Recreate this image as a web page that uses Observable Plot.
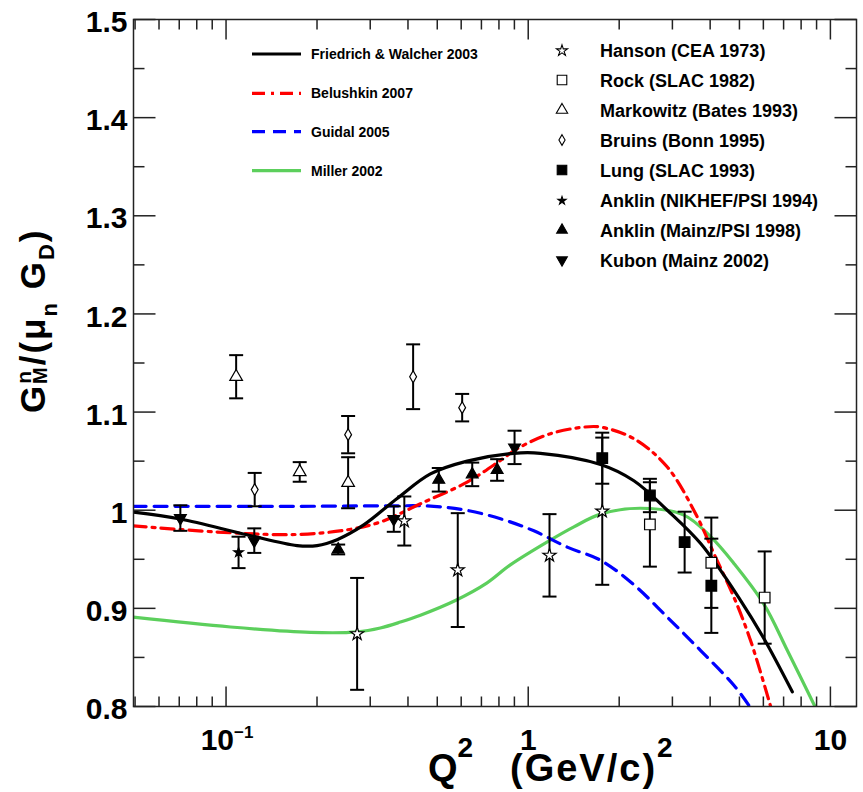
<!DOCTYPE html>
<html><head><meta charset="utf-8">
<script src="https://cdn.jsdelivr.net/npm/d3@7"></script>
<script src="https://cdn.jsdelivr.net/npm/@observablehq/plot@0.6"></script>
<style>
body{margin:0;background:#fff;}
#chart svg{display:block;}
</style></head><body><div id="chart"></div>
<script>
// ---------- model curves (Q^2 in (GeV/c)^2, G_M^n/(mu_n G_D)) ----------
const fwQ2 = [0.0494,0.0706,0.1173,0.1718,0.2001,0.2331,0.2855,0.3683,0.4747,0.628,0.896,1.098,1.735,2.237,2.886,3.721,5.047,6.03,7.48];
const fwG  = [0.998,0.991,0.975,0.964,0.964,0.970,0.985,1.012,1.037,1.050,1.058,1.058,1.0466,1.030,1.000,0.966,0.908,0.869,0.815];

const beluQ2 = [0.0493,0.1035,0.1718,0.2516,0.3243,0.4398,0.628,0.8096,0.9195,1.185,1.528,1.735,2.237,2.886,3.581,4.17,4.80,5.445,6.343];
const beluG  = [0.984,0.977,0.9753,0.980,0.988,1.0066,1.0287,1.0508,1.0627,1.078,1.0847,1.0847,1.0729,1.044,0.9964,0.952,0.911,0.867,0.800];

const guidQ2 = [0.0493,0.1762,0.35,0.487,0.628,0.8096,1.044,1.346,1.735,2.237,2.886,3.721,4.80,5.376];
const guidG  = [1.004,1.004,1.0045,1.004,0.9998,0.9913,0.979,0.9624,0.949,0.924,0.891,0.857,0.8214,0.801];

const millQ2 = [0.0493,0.1035,0.190,0.2715,0.324,0.3777,0.4398,0.574,0.731,0.87,1.176,1.416,1.735,2.355,3.275,4.015,4.80,6.03,7.205,8.89];
const millG  = [0.891,0.881,0.8755,0.876,0.880,0.886,0.893,0.908,0.926,0.944,0.969,0.983,0.996,1.002,0.995,0.973,0.9455,0.904,0.857,0.800];

// ---------- data sets ----------
const hansonQ2 = [0.2715,0.389,0.5845,1.176,1.758];
const hansonG  = [0.874,0.989,0.939,0.954,0.999];
const hansonE  = [0.057,0.025,0.058,0.042,0.075];

const rockQ2 = [2.527,4.036,6.06];
const rockG  = [0.9855,0.9465,0.911];
const rockE  = [0.043,0.046,0.047];

const markQ2 = [0.108,0.1753,0.2535];
const markG  = [1.136,1.039,1.028];
const markE  = [0.022,0.010,0.026];

const bruinsQ2 = [0.1244,0.2535,0.416,0.6045];
const bruinsG  = [1.021,1.077,1.136,1.1045];
const bruinsE  = [0.017,0.019,0.033,0.014];

const lungQ2 = [1.758,2.527,3.293,4.036];
const lungG  = [1.053,1.015,0.9675,0.923];
const lungE  = [0.026,0.017,0.031,0.048];

const anklinNQ2 = [0.110];
const anklinNG  = [0.957];
const anklinNE  = [0.016];

const anklinMQ2 = [0.235,0.5058,0.6527,0.789];
const anklinMG  = [0.960,1.031,1.0365,1.041];
const anklinME  = [0.005,0.012,0.012,0.011];

const kubonQ2 = [0.0706,0.124,0.359,0.901];
const kubonG  = [0.992,0.969,0.991,1.064];
const kubonE  = [0.013,0.0125,0.013,0.017];

// ---------- axis ticks ----------
const yMajor = [0.8,0.9,1.0,1.1,1.2,1.3,1.4,1.5];
const yLabels = ["0.8","0.9","1","1.1","1.2","1.3","1.4","1.5"];
const yMinor = [0.85,0.95,1.05,1.15,1.25,1.35,1.45];
const xMajor = [0.1,1,10];
const xMinor = [0.05,0.06,0.07,0.08,0.09,0.2,0.3,0.4,0.5,0.6,0.7,0.8,0.9,2,3,4,5,6,7,8,9];

const modelNames = ["Friedrich & Walcher 2003","Belushkin 2007","Guidal 2005","Miller 2002"];
const dataNames = ["Hanson (CEA 1973)","Rock (SLAC 1982)","Markowitz (Bates 1993)","Bruins (Bonn 1995)","Lung (SLAC 1993)","Anklin (NIKHEF/PSI 1994)","Anklin (Mainz/PSI 1998)","Kubon (Mainz 2002)"];

// ---------- helpers ----------
const curve = (q, g) => q.map((x, i) => ({q: x, v: g[i]}));
const pts = (q, g, e) => q.map((x, i) => ({q: x, v: g[i], lo: g[i] - e[i], hi: g[i] + e[i]}));
const hLine = (a, b) => ({draw(c){ c.moveTo(a, 0); c.lineTo(b, 0); }});
const vLine = (a, b) => ({draw(c){ c.moveTo(0, a); c.lineTo(0, b); }});
const sqrt3 = Math.sqrt(3);
const triangleDown = {draw(c, size){ const y = -Math.sqrt(size / (sqrt3 * 3)); c.moveTo(0, -y * 2); c.lineTo(-sqrt3 * y, y); c.lineTo(sqrt3 * y, y); c.closePath(); }};

const sets = [
  {d: pts(hansonQ2, hansonG, hansonE), symbol: d3.symbolStar, r: 4.1, fill: "white"},
  {d: pts(rockQ2, rockG, rockE), symbol: d3.symbolSquare, r: 6.0, fill: "white"},
  {d: pts(markQ2, markG, markE), symbol: d3.symbolTriangle, r: 4.7, fill: "white"},
  {d: pts(bruinsQ2, bruinsG, bruinsE), symbol: d3.symbolDiamond, r: 3.6, fill: "white"},
  {d: pts(lungQ2, lungG, lungE), symbol: d3.symbolSquare, r: 6.0, fill: "black"},
  {d: pts(anklinNQ2, anklinNG, anklinNE), symbol: d3.symbolStar, r: 3.0, fill: "black"},
  {d: pts(anklinMQ2, anklinMG, anklinME), symbol: d3.symbolTriangle, r: 4.4, fill: "black"},
  {d: pts(kubonQ2, kubonG, kubonE), symbol: triangleDown, r: 4.4, fill: "black"}
];

const models = [
  {d: curve(fwQ2, fwG), stroke: "#000000", dash: null},
  {d: curve(beluQ2, beluG), stroke: "#ff0000", dash: "13,6,3,6"},
  {d: curve(guidQ2, guidG), stroke: "#0000ff", dash: "13,8"},
  {d: curve(millQ2, millG), stroke: "#5ccf5c", dash: null}
];

const FONT = "Liberation Sans, Arial, Helvetica, sans-serif";
const AX = "#222";

const marks = [];
for (const m of [models[3], models[2], models[1], models[0]]) {
  marks.push(Plot.line(m.d, {x: "q", y: "v", curve: "catmull-rom", stroke: m.stroke, strokeWidth: 3.2, strokeDasharray: m.dash, clip: true}));
}
for (const s of sets) {
  marks.push(Plot.ruleX(s.d, {x: "q", y1: "lo", y2: "hi", stroke: "black", strokeWidth: 2}));
  marks.push(Plot.dot(s.d, {x: "q", y: "lo", symbol: hLine(-7, 7), stroke: "black", strokeWidth: 2, fill: "none"}));
  marks.push(Plot.dot(s.d, {x: "q", y: "hi", symbol: hLine(-7, 7), stroke: "black", strokeWidth: 2, fill: "none"}));
}
for (const s of sets) {
  marks.push(Plot.dot(s.d, {x: "q", y: "v", symbol: s.symbol, r: s.r, fill: s.fill, stroke: "black", strokeWidth: 1.2}));
}
marks.push(Plot.frame({stroke: AX, strokeWidth: 1.5}));
marks.push(Plot.dotY(yMajor, {y: d => d, frameAnchor: "left", symbol: hLine(0, 22), stroke: AX, strokeWidth: 1.5, fill: "none"}));
marks.push(Plot.dotY(yMinor, {y: d => d, frameAnchor: "left", symbol: hLine(0, 11), stroke: AX, strokeWidth: 1.5, fill: "none"}));
marks.push(Plot.dotY(yMajor, {y: d => d, frameAnchor: "right", symbol: hLine(0, -22), stroke: AX, strokeWidth: 1.5, fill: "none"}));
marks.push(Plot.dotY(yMinor, {y: d => d, frameAnchor: "right", symbol: hLine(0, -11), stroke: AX, strokeWidth: 1.5, fill: "none"}));
marks.push(Plot.dotX(xMajor, {x: d => d, frameAnchor: "bottom", symbol: vLine(0, -20), stroke: AX, strokeWidth: 1.5, fill: "none"}));
marks.push(Plot.dotX(xMinor, {x: d => d, frameAnchor: "bottom", symbol: vLine(0, -10), stroke: AX, strokeWidth: 1.5, fill: "none"}));
marks.push(Plot.dotX(xMajor, {x: d => d, frameAnchor: "top", symbol: vLine(0, 20), stroke: AX, strokeWidth: 1.5, fill: "none"}));
marks.push(Plot.dotX(xMinor, {x: d => d, frameAnchor: "top", symbol: vLine(0, 10), stroke: AX, strokeWidth: 1.5, fill: "none"}));
marks.push(Plot.text(yMajor, {y: d => d, frameAnchor: "left", dx: -6, dy: 3, textAnchor: "end", text: (d, i) => yLabels[i], fontSize: 30, fontWeight: "bold", fill: "black"}));
marks.push(Plot.text(xMajor.filter(d => d >= 1), {x: d => d, frameAnchor: "bottom", lineAnchor: "bottom", dy: 43, text: d => String(d), fontSize: 30, fontWeight: "bold", fill: "black"}));
marks.push(Plot.text(xMajor.filter(d => d < 1), {x: d => d, frameAnchor: "bottom", lineAnchor: "bottom", dy: 43, dx: 8, textAnchor: "end", text: d => "10", fontSize: 30, fontWeight: "bold", fill: "black"}));
marks.push(Plot.text(xMajor.filter(d => d < 1), {x: d => d, frameAnchor: "bottom", lineAnchor: "bottom", dy: 31, dx: 8, textAnchor: "start", text: d => "\u2212" + "1", fontSize: 17, fontWeight: "bold", fill: "black"}));

const svgNode = Plot.plot({
  width: 863, height: 792,
  marginLeft: 133, marginRight: 7, marginTop: 19, marginBottom: 86,
  x: {type: "log", domain: [0.0494, 12.2], axis: null},
  y: {domain: [0.8, 1.5], axis: null},
  style: {fontFamily: FONT, background: "#fff"},
  marks
});
document.getElementById("chart").appendChild(svgNode);

const svg = d3.select(svgNode);
// x-axis title
const xt = svg.append("text").attr("x", 428).attr("y", 781).attr("text-anchor", "start").attr("font-family", FONT).attr("font-weight", "bold").attr("font-size", 38).attr("fill", "black");
xt.append("tspan").text("Q");
xt.append("tspan").attr("font-size", 28).attr("dy", -24).text("2");
xt.append("tspan").attr("x", 510).attr("dy", 24).attr("letter-spacing", 2).text("(GeV/c)");
xt.append("tspan").attr("font-size", 28).attr("dy", -24).text("2");

// y-axis title
const yt = svg.append("text").attr("transform", "translate(45,413) rotate(-90)").attr("text-anchor", "start").attr("font-family", FONT).attr("font-weight", "bold").attr("font-size", 35).attr("fill", "black").attr("letter-spacing", 2);
yt.append("tspan").text("G");
yt.append("tspan").attr("font-size", 21).attr("dy", -14).text("n");
yt.append("tspan").attr("font-size", 20).attr("dx", -15).attr("dy", 16).text("M");
yt.append("tspan").attr("dy", -2).text("/(\u03bc");
yt.append("tspan").attr("font-size", 22).attr("dy", 12).text("n");
yt.append("tspan").attr("dy", -12).text(" G");
yt.append("tspan").attr("font-size", 22).attr("dy", 9).text("D");
yt.append("tspan").attr("dy", -9).text(")");

// legends
const lg = svg.append("g").attr("font-family", FONT).attr("font-weight", "bold").attr("text-anchor", "start");
const modelRows = [54, 93.3, 131.7, 170.7];
models.forEach((m, i) => {
  lg.append("line").attr("x1", 252).attr("x2", 301).attr("y1", modelRows[i]).attr("y2", modelRows[i])
    .attr("stroke", m.stroke).attr("stroke-width", 3.2).attr("stroke-dasharray", m.dash);
  lg.append("text").attr("x", 311).attr("y", modelRows[i] + 5).attr("font-size", 14).attr("fill", "black").text(modelNames[i]);
});
const dataRows = [50.7, 80, 110, 140, 170, 200.7, 230, 260];
sets.forEach((s, i) => {
  const rr = s.r * (s.symbol === d3.symbolStar ? 0.85 : 0.9);
  lg.append("path").attr("transform", `translate(562,${dataRows[i]})`)
    .attr("d", d3.symbol().type(s.symbol).size(Math.PI * rr * rr)())
    .attr("fill", s.fill).attr("stroke", "black").attr("stroke-width", 1.1);
  lg.append("text").attr("x", 600).attr("y", dataRows[i] + 6.5).attr("font-size", 18).attr("fill", "black").text(dataNames[i]);
});
</script></body></html>
